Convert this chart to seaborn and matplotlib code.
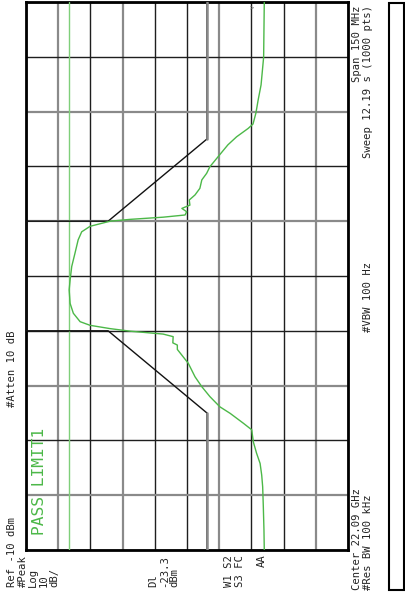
import numpy as np
import pandas as pd
import matplotlib
matplotlib.use('Agg')
import matplotlib.pyplot as plt
from matplotlib.patches import Rectangle
import seaborn as sns

# trace (amplitude dBm, frequency GHz), high freq -> low freq
trace_amp = [-84.0, -83.8, -83.0, -82.1, -81.4, -80.5, -79.0, -75.4, -72.7, -69.7,
             -67.1, -66.1, -64.6, -64.0, -62.5, -60.7, -60.9, -58.4, -59.9, -59.4,
             -52.6, -42.3, -36.1, -29.9, -27.3, -26.2, -25.2, -24.2, -23.7, -23.4,
             -23.7, -24.7, -26.8, -29.9, -36.1, -42.3, -52.6, -55.7, -55.6, -57.0,
             -57.0, -60.4, -62.5, -64.6, -67.1, -70.2, -73.4, -77.5, -80.1, -80.6,
             -81.6, -82.7, -83.2, -83.5, -83.7, -83.9, -84.0]
trace_freq = [22.1650, 22.1499, 22.1423, 22.1382, 22.1346, 22.1316, 22.1304, 22.1281, 22.1259, 22.1227,
              22.1199, 22.1181, 22.1163, 22.1140, 22.1122, 22.1108, 22.1094, 22.1085, 22.1076, 22.1067,
              22.1061, 22.1055, 22.1050, 22.1036, 22.1021, 22.0999, 22.0962, 22.0926, 22.0889, 22.0862,
              22.0825, 22.0798, 22.0775, 22.0765, 22.0756, 22.0749, 22.0741, 22.0734, 22.0717, 22.0711,
              22.0699, 22.0661, 22.0624, 22.0597, 22.0570, 22.0542, 22.0524, 22.0497, 22.0479, 22.0446,
              22.0415, 22.0387, 22.0355, 22.0323, 22.0269, 22.0205, 22.0150]

# limit line 1 (mask)
limit_amp = [-66.2, -66.2, -35.5, -10.0, -10.0, -35.5, -66.2, -66.2]
limit_freq = [22.015, 22.0525, 22.075, 22.075, 22.105, 22.105, 22.1275, 22.165]

ref_level = -10
db_per_div = 10
center_ghz = 22.09
span_ghz = 0.150
display_line = -23.3

W, H = 405, 598
fig = plt.figure(figsize=(W / 100, H / 100), dpi=100)
sns.set_style('white')
plt.rcParams['font.family'] = ['DejaVu Sans Mono', 'DejaVu Sans']

ax = fig.add_axes([26 / W, 1 - 550 / H, (348 - 26) / W, (550 - 2) / H])
ax.set_xlim(ref_level, ref_level - 10 * db_per_div)
ax.set_ylim(center_ghz - span_ghz / 2, center_ghz + span_ghz / 2)

# graticule
ax.set_xticks(np.linspace(ref_level, ref_level - 10 * db_per_div, 11))
ax.set_yticks(np.linspace(center_ghz - span_ghz / 2, center_ghz + span_ghz / 2, 11))
ax.set_xticklabels([])
ax.set_yticklabels([])
ax.tick_params(length=0)
ax.grid(True)
xcols = ['k', 'g', 'k', 'g', 'k', 'k', 'g', 'k', 'k', 'g', 'k']
ycols = ['k', 'g', 'k', 'g', 'k', 'k', 'g', 'k', 'g', 'k', 'k']
for line, c in zip(ax.get_xgridlines(), xcols):
    line.set_color('#8a8a8a' if c == 'g' else '#1e1e1e')
    line.set_linewidth(1.6 if c == 'g' else 1.0)
for line, c in zip(ax.get_ygridlines(), ycols):
    line.set_color('#8a8a8a' if c == 'g' else '#1e1e1e')
    line.set_linewidth(1.6 if c == 'g' else 1.0)
for sp in ax.spines.values():
    sp.set_color('black')
    sp.set_linewidth(2)

# display line
ax.axvline(display_line, color='#7fcf7a', lw=1.0, zorder=3)

# limit mask
lim = pd.DataFrame({'amp': limit_amp, 'freq': limit_freq})
sns.lineplot(data=lim, x='amp', y='freq', sort=False, estimator=None,
             color='#111111', lw=1.0, ax=ax, zorder=4)
for part in [lim.iloc[0:2], lim.iloc[6:8]]:
    sns.lineplot(data=part, x='amp', y='freq', sort=False, estimator=None,
                 color='#8a8a8a', lw=1.8, ax=ax, zorder=4)

# trace
df = pd.DataFrame({'amp': trace_amp, 'freq': trace_freq})
sns.lineplot(data=df, x='amp', y='freq', sort=False, estimator=None,
             color='#4cb848', lw=1.0, ax=ax, zorder=5)
ax.set_xlabel('')
ax.set_ylabel('')

ax.text(-80.2, 22.1632, '>', fontsize=5, color='#777777', ha='center', va='center')


def txt(x, y, s, va='bottom', size=7.6, color='#222222'):
    fig.text(x / W, 1 - y / H, s, rotation=90, ha='center', va=va,
             fontsize=size, color=color)


txt(12, 587, 'Ref -10 dBm')
txt(12, 407, '#Atten 10 dB')
txt(22.5, 587, '#Peak')
txt(33, 587, 'Log')
txt(43.5, 587, '10')
txt(54, 587, 'dB/')
txt(40, 535, 'PASS LIMIT1', size=11.7, color='#4cb848')
txt(153.5, 587, 'Dl')
txt(164, 587, '-23.3')
txt(174.5, 587, 'dBm')
txt(229, 587, 'W1 S2')
txt(240, 587, 'S3 FC')
txt(262, 567, 'AA')
txt(357, 590, 'Center 22.09 GHz')
txt(368, 590, '#Res BW 100 kHz')
txt(368, 297, '#VBW 100 Hz', va='center')
txt(357, 5, 'Span 150 MHz', va='top')
txt(368, 5, 'Sweep 12.19 s (1000 pts)', va='top')

fig.patches.append(Rectangle((389 / W, 1 - 590 / H), 15 / W, 587 / H,
                             transform=fig.transFigure, fill=False,
                             edgecolor='black', lw=1.5))

fig.savefig('out.png', dpi=100)
